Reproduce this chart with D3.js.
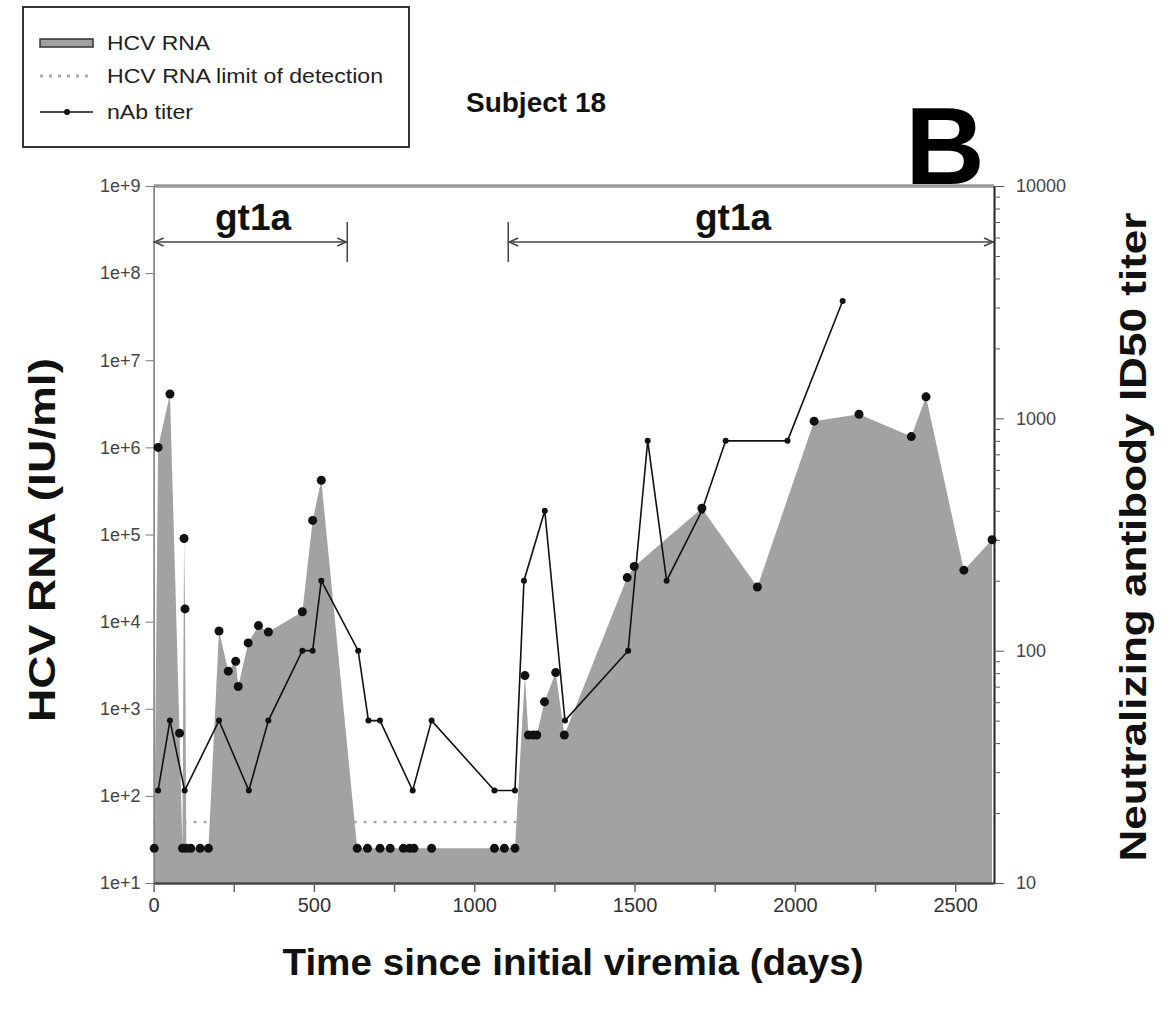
<!DOCTYPE html>
<html>
<head>
<meta charset="utf-8">
<script src="https://cdn.jsdelivr.net/npm/d3@7"></script>
<style>
  body { margin: 0; background: #fff; }
  text { font-family: Arial, "Liberation Sans", sans-serif; }
</style>
</head>
<body>
<svg id="chart" width="1171" height="1011"></svg>
<script>
// HCV RNA (IU/ml), undetectable samples plotted at 25
const hcvDays = [2, 14, 51, 81, 90, 95, 98, 102, 116, 145, 171, 204, 233, 256, 264, 295, 327, 358, 464, 496, 523,
  635, 667, 706, 738, 779, 798, 812, 867, 1063, 1094, 1127, 1158, 1169, 1184, 1195, 1219, 1254, 1281,
  1477, 1499, 1710, 1883, 2060, 2200, 2363, 2409, 2527, 2615];
const hcvRna = [25, 1.0e6, 4.1e6, 525, 25, 9.0e4, 1.4e4, 25, 25, 25, 25, 7.8e3, 2.7e3, 3.5e3, 1.8e3, 5.7e3, 9.0e3, 7.6e3, 1.3e4, 1.45e5, 4.2e5,
  25, 25, 25, 25, 25, 25, 25, 25, 25, 25, 25, 2.4e3, 500, 500, 500, 1.2e3, 2.6e3, 500,
  3.2e4, 4.3e4, 2.0e5, 2.5e4, 2.0e6, 2.4e6, 1.33e6, 3.8e6, 3.9e4, 8.7e4];

// nAb titer (ID50)
const nabDays = [14, 51, 97, 204, 297, 358, 464, 496, 523, 638, 670, 706, 808, 867, 1063, 1127,
  1155, 1220, 1283, 1480, 1541, 1600, 1710, 1784, 1977, 2149];
const nabTiter = [25, 50, 25, 50, 25, 50, 100, 100, 200, 100, 50, 50, 25, 50, 25, 25,
  200, 400, 50, 100, 800, 200, 400, 800, 800, 3200];

const limitOfDetection = 50;
const genotypeLabels = ['gt1a', 'gt1a'];
const genotypeStart = [0, 1106];
const genotypeEnd = [604, 2621];

const xTicks = [0, 500, 1000, 1500, 2000, 2500];
const xMinorTicks = [250, 750, 1250, 1750, 2250];
const leftTicks = [1e1, 1e2, 1e3, 1e4, 1e5, 1e6, 1e7, 1e8, 1e9];
const rightTicks = [10, 100, 1000, 10000];

const svg = d3.select('#chart');
const plotLeft = 153.6, plotRight = 994, plotTop = 186, plotBottom = 883;

const x = d3.scaleLinear().domain([0, 2621]).range([plotLeft, plotRight]);
const yL = d3.scaleLog().domain([10, 1e9]).range([plotBottom, plotTop]);
const yR = d3.scaleLog().domain([10, 10000]).range([plotBottom, plotTop]);

const hcv = hcvDays.map((d, i) => [d, hcvRna[i]]);
const nab = nabDays.map((d, i) => [d, nabTiter[i]]);

// limit of detection, sits under the grey area
svg.append('line')
  .attr('x1', plotLeft).attr('x2', plotRight)
  .attr('y1', yL(limitOfDetection)).attr('y2', yL(limitOfDetection))
  .attr('stroke', '#a8a8a8')
  .attr('stroke-width', 2.5)
  .attr('stroke-dasharray', '3,7');

// HCV RNA area
svg.append('path')
  .datum(hcv)
  .attr('d', d3.area().x(d => x(d[0])).y0(yL(10)).y1(d => yL(d[1])))
  .attr('fill', '#a2a2a2');

// top frame line
svg.append('line')
  .attr('x1', plotLeft).attr('x2', plotRight)
  .attr('y1', plotTop).attr('y2', plotTop)
  .attr('stroke', '#999')
  .attr('stroke-width', 3.5);

// axes
const gLeft = svg.append('g')
  .attr('class', 'yLeft')
  .attr('transform', `translate(${plotLeft},0)`)
  .call(d3.axisLeft(yL)
    .tickValues(leftTicks)
    .tickFormat(v => '1e+' + Math.round(Math.log10(v)))
    .tickSize(8)
    .tickSizeOuter(0)
    .tickPadding(5));
gLeft.select('.domain').attr('stroke', '#777').attr('stroke-width', 1.5);
gLeft.selectAll('.tick line').attr('stroke', '#777');
gLeft.selectAll('.tick text').attr('fill', '#444').style('font-size', '18px');

const rightAll = [];
[10, 100, 1000].forEach(b => { for (let k = 1; k < 10; k++) rightAll.push(b * k); });
rightAll.push(10000);
const gRight = svg.append('g')
  .attr('class', 'yRight')
  .attr('transform', `translate(${plotRight},0)`)
  .call(d3.axisRight(yR)
    .tickValues(rightAll)
    .tickFormat(v => rightTicks.includes(v) ? v : '')
    .tickSize(10)
    .tickSizeOuter(0)
    .tickPadding(12));
gRight.select('.domain').attr('stroke', '#222').attr('stroke-width', 2);
gRight.selectAll('.tick line')
  .attr('stroke', '#555')
  .attr('x2', v => rightTicks.includes(v) ? 10 : 6);
gRight.selectAll('.tick text').attr('fill', '#444').style('font-size', '18px');

const gBottom = svg.append('g')
  .attr('class', 'xAxis')
  .attr('transform', `translate(0,${plotBottom})`)
  .call(d3.axisBottom(x)
    .tickValues(xTicks.concat(xMinorTicks))
    .tickFormat(v => xTicks.includes(v) ? v : '')
    .tickSize(9)
    .tickSizeOuter(0)
    .tickPadding(6));
gBottom.select('.domain').attr('stroke', '#444').attr('stroke-width', 2.5);
gBottom.selectAll('.tick line').attr('stroke', '#666').attr('stroke-width', 1.5);
gBottom.selectAll('.tick text').attr('fill', '#333').style('font-size', '20px');

// nAb titer line
svg.append('path')
  .datum(nab)
  .attr('d', d3.line().x(d => x(d[0])).y(d => yR(d[1])))
  .attr('fill', 'none')
  .attr('stroke', '#111')
  .attr('stroke-width', 1.6);

svg.append('g').selectAll('circle')
  .data(hcv)
  .join('circle')
  .attr('cx', d => x(d[0]))
  .attr('cy', d => yL(d[1]))
  .attr('r', 4.5)
  .attr('fill', '#111');

svg.append('g').selectAll('circle')
  .data(nab)
  .join('circle')
  .attr('cx', d => x(d[0]))
  .attr('cy', d => yR(d[1]))
  .attr('r', 3)
  .attr('fill', '#111');

// genotype brackets
const bracketY = 242;
genotypeLabels.forEach((lab, i) => {
  const x0 = x(genotypeStart[i]), x1 = x(genotypeEnd[i]);
  svg.append('line')
    .attr('x1', x0).attr('x2', x1)
    .attr('y1', bracketY).attr('y2', bracketY)
    .attr('stroke', '#444').attr('stroke-width', 1.5);
  // arrow heads
  svg.append('path')
    .attr('d', `M${x0 + 10},${bracketY - 4}L${x0 + 1},${bracketY}L${x0 + 10},${bracketY + 4}`)
    .attr('fill', 'none').attr('stroke', '#444').attr('stroke-width', 1.5);
  svg.append('path')
    .attr('d', `M${x1 - 10},${bracketY - 4}L${x1 - 1},${bracketY}L${x1 - 10},${bracketY + 4}`)
    .attr('fill', 'none').attr('stroke', '#444').attr('stroke-width', 1.5);
  // end bar away from the axis
  const bx = i === 0 ? x1 : x0;
  svg.append('line')
    .attr('x1', bx).attr('x2', bx)
    .attr('y1', bracketY - 20).attr('y2', bracketY + 20)
    .attr('stroke', '#444').attr('stroke-width', 1.5);
});
const labelX = [253, 733];
genotypeLabels.forEach((lab, i) => {
  svg.append('text')
    .attr('x', labelX[i]).attr('y', 230)
    .attr('text-anchor', 'middle')
    .attr('font-weight', 'bold')
    .style('font-size', '37px')
    .attr('fill', '#111')
    .text(lab);
});

// titles
svg.append('text')
  .attr('x', 573).attr('y', 975)
  .attr('text-anchor', 'middle')
  .attr('font-weight', 'bold')
  .style('font-size', '37px')
  .attr('textLength', 581).attr('lengthAdjust', 'spacingAndGlyphs')
  .attr('fill', '#111')
  .text('Time since initial viremia (days)');

svg.append('text')
  .attr('transform', 'translate(55,540) rotate(-90)')
  .attr('text-anchor', 'middle')
  .attr('font-weight', 'bold')
  .style('font-size', '37px')
  .attr('textLength', 364).attr('lengthAdjust', 'spacingAndGlyphs')
  .attr('fill', '#111')
  .text('HCV RNA (IU/ml)');

svg.append('text')
  .attr('transform', 'translate(1146,537) rotate(-90)')
  .attr('text-anchor', 'middle')
  .attr('font-weight', 'bold')
  .style('font-size', '37px')
  .attr('textLength', 649).attr('lengthAdjust', 'spacingAndGlyphs')
  .attr('fill', '#111')
  .text('Neutralizing antibody ID50 titer');

svg.append('text')
  .attr('x', 536).attr('y', 112)
  .attr('text-anchor', 'middle')
  .attr('font-weight', 'bold')
  .style('font-size', '28px')
  .attr('fill', '#111')
  .text('Subject 18');

svg.append('text')
  .attr('x', 945).attr('y', 184)
  .attr('text-anchor', 'middle')
  .attr('font-weight', 'bold')
  .style('font-size', '110px')
  .attr('fill', '#000')
  .text('B');

// legend
const lg = svg.append('g').attr('class', 'legend');
lg.append('rect')
  .attr('x', 23).attr('y', 7).attr('width', 386).attr('height', 140)
  .attr('fill', '#fff').attr('stroke', '#333').attr('stroke-width', 2);
lg.append('rect')
  .attr('x', 40).attr('y', 39).attr('width', 53).attr('height', 8)
  .attr('fill', '#a2a2a2').attr('stroke', '#333').attr('stroke-width', 1.5);
lg.append('line')
  .attr('x1', 40).attr('x2', 92).attr('y1', 76).attr('y2', 76)
  .attr('stroke', '#aaa').attr('stroke-width', 3).attr('stroke-dasharray', '3,6');
lg.append('line')
  .attr('x1', 40).attr('x2', 93).attr('y1', 112).attr('y2', 112)
  .attr('stroke', '#111').attr('stroke-width', 1.5);
lg.append('circle').attr('cx', 67).attr('cy', 112).attr('r', 3).attr('fill', '#111');
const legendText = ['HCV RNA', 'HCV RNA limit of detection', 'nAb titer'];
const legendWidth = [103, 276, 86];
legendText.forEach((t, i) => {
  lg.append('text')
    .attr('x', 107).attr('y', [43, 76, 112][i])
    .attr('dy', '0.35em')
    .style('font-size', '20px')
    .attr('textLength', legendWidth[i]).attr('lengthAdjust', 'spacingAndGlyphs')
    .attr('fill', '#222')
    .text(t);
});
</script>
</body>
</html>
